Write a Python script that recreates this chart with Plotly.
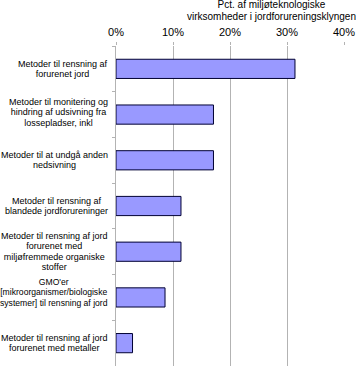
import plotly.graph_objects as go

categories = [
    "Metoder til rensning af<br>forurenet jord",
    "Metoder til monitering og<br>hindring af udsivning fra<br>lossepladser, inkl",
    "Metoder til at undgå anden<br>nedsivning",
    "Metoder til rensning af<br>blandede jordforureninger",
    "Metoder til rensning af jord<br>forurenet med<br>miljøfremmede organiske<br>stoffer",
    "GMO'er<br>[mikroorganismer/biologiske<br>systemer] til rensning af jord",
    "Metoder til rensning af jord<br>forurenet med metaller",
]
values = [31.4, 17.1, 17.1, 11.4, 11.4, 8.6, 2.9]
axis_title = "Pct. af miljøteknologiske<br>virksomheder i jordforureningsklyngen"

FONT = "Liberation Sans, Arial, sans-serif"
label_shift = [0, 2, 0, 0, 0, 5, 0]
label_px = [9, 9, 9, 9, 9, 8.6, 9]


def sized(text, px):
    return '<span style="font-size:%spx">' % px + text.replace(
        "<br>", '</span><br><span style="font-size:%spx">' % px) + "</span>"


fig = go.Figure()
fig.add_trace(go.Bar(
    y=categories, x=values, orientation="h",
    marker=dict(color="#9999FF", line=dict(color="#000033", width=1)),
    width=0.42,
    hoverinfo="x+y",
))

for c, s, px in zip(categories, label_shift, label_px):
    fig.add_annotation(
        x=0, xref="paper", y=c, yref="y", xanchor="right", xshift=-6, yshift=s,
        text=sized(c, px), showarrow=False, align="center",
        font=dict(family=FONT, size=8, color="#000000"),
    )

fig.add_annotation(
    x=0.68, xref="paper", y=1, yref="paper", xanchor="center", yanchor="bottom",
    yshift=22,
    text=sized(axis_title, 10), showarrow=False, align="center",
    font=dict(family=FONT, size=9, color="#000000"),
)

fig.update_layout(
    width=356, height=366,
    margin=dict(l=116, r=12, t=46, b=0),
    paper_bgcolor="white", plot_bgcolor="white",
    showlegend=False,
    font=dict(family=FONT, color="#000000"),
)
fig.update_xaxes(
    side="top", range=[0, 40], dtick=10, ticksuffix="%",
    showgrid=True, gridcolor="#b3b3b3", gridwidth=1,
    ticks="outside", ticklen=3, tickcolor="#b3b3b3",
    tickfont=dict(family=FONT, size=11, color="#000000"),
    ticklabelstandoff=2,
    zeroline=False, showline=False, fixedrange=True,
)
fig.update_yaxes(
    autorange="reversed", showticklabels=False,
    tickson="boundaries", ticks="outside", ticklen=3, tickcolor="#b3b3b3",
    showline=True, linecolor="#b3b3b3", linewidth=1,
    showgrid=False, zeroline=False, fixedrange=True,
)

fig.write_html(
    "out.html",
    config={"displayModeBar": False},
    post_script="document.body.style.margin='0';document.body.style.overflow='hidden';",
)
